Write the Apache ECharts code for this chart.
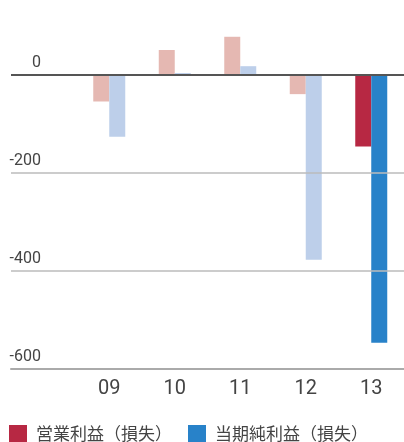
<!DOCTYPE html>
<html>
<head>
<meta charset="utf-8">
<script src="https://cdn.jsdelivr.net/npm/echarts@6/dist/echarts.min.js"></script>
<style>
html,body{margin:0;padding:0;background:#fff;}
#chart{width:404px;height:442px;}
</style>
</head>
<body>
<div id="chart"></div>
<script>
const categories = ['', '09', '10', '11', '12', '13'];
const operatingIncome = [null, -55, 50, 77, -40, -147];
const netIncome = [null, -127, 3, 17, -378, -547];
const seriesNames = ['営業利益（損失）', '当期純利益（損失）'];
const yTicks = [-600, -400, -200, 0];

const fadedRed = '#e5b8b2', strongRed = '#b72843';
const fadedBlue = '#bdcfea', strongBlue = '#2882c9';
const lastIdx = categories.length - 1;

function items(arr, faded, strong) {
  return arr.map((v, i) => v === null ? '-' : {
    value: v,
    itemStyle: { color: i === lastIdx ? strong : faded }
  });
}

const gridLines = yTicks.filter(v => v > -600).map(v => ({
  yAxis: v,
  lineStyle: v === 0 ? { color: '#555', width: 2, type: 'solid' } : { color: '#bbb', width: 1.5, type: 'solid' }
}));

const numFont = "Roboto, sans-serif";
const chart = echarts.init(document.getElementById('chart'), null, { renderer: 'canvas' });
chart.setOption({
  animation: false,
  backgroundColor: '#fff',
  grid: { left: 11, right: -1, top: 25.5, bottom: 73.3, containLabel: false },
  legend: {
    left: 9, top: 425, padding: 0, itemWidth: 18, itemHeight: 18, itemGap: 16,
    icon: 'rect',
    textStyle: { fontSize: 17, lineHeight: 18, color: '#444', fontFamily: "'Noto Sans CJK JP', sans-serif", padding: [0, 0, 0, 4] },
    data: [
      { name: seriesNames[0], itemStyle: { color: strongRed } },
      { name: seriesNames[1], itemStyle: { color: strongBlue } }
    ]
  },
  xAxis: {
    type: 'category',
    data: categories,
    axisLine: { show: true, onZero: false, lineStyle: { color: '#aaa', width: 2 } },
    axisTick: { show: false },
    axisLabel: { fontSize: 20, color: '#444', fontFamily: numFont, margin: 10 }
  },
  yAxis: {
    type: 'value',
    min: -600, max: 100, interval: 100,
    axisLine: { show: false },
    axisTick: { show: false },
    splitLine: { show: false },
    axisLabel: {
      fontSize: 16, color: '#444', fontFamily: numFont,
      margin: -30, align: 'right', verticalAlign: 'bottom', padding: [0, 0, 4, 0],
      formatter: v => yTicks.includes(v) ? String(v) : ''
    }
  },
  series: [
    {
      name: seriesNames[0], type: 'bar', barWidth: 16, barGap: '0%',
      itemStyle: { color: strongRed },
      data: items(operatingIncome, fadedRed, strongRed),
      markLine: {
        silent: true, symbol: 'none', label: { show: false },
        data: gridLines
      }
    },
    {
      name: seriesNames[1], type: 'bar', barWidth: 16, barGap: '0%',
      itemStyle: { color: strongBlue },
      data: items(netIncome, fadedBlue, strongBlue)
    }
  ]
});
</script>
</body>
</html>
